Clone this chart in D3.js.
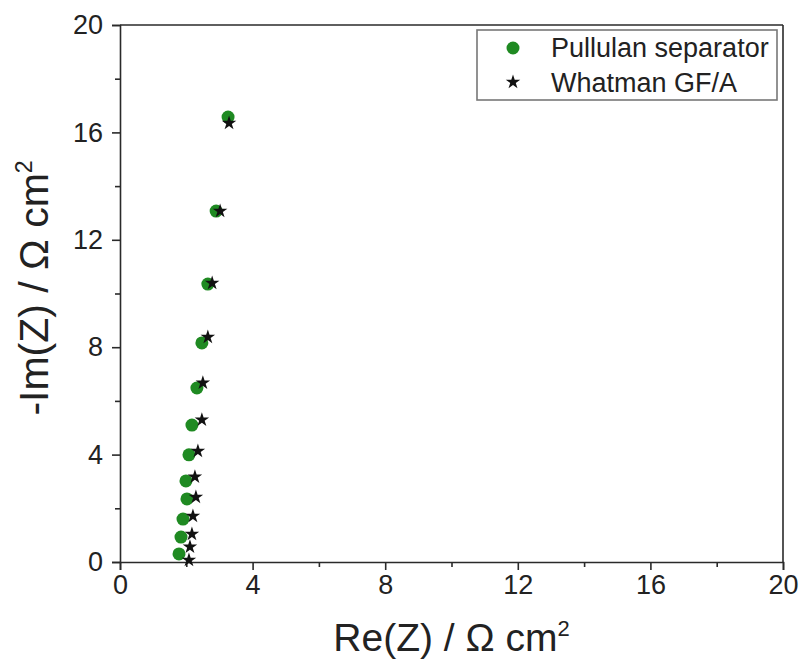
<!DOCTYPE html>
<html>
<head>
<meta charset="utf-8">
<script src="https://cdn.jsdelivr.net/npm/d3@7"></script>
<style>
  html, body { margin: 0; padding: 0; background: #fff; }
  svg { display: block; font-family: "Liberation Sans", Arial, sans-serif; }
</style>
</head>
<body>
<svg id="chart" width="812" height="662"></svg>
<script>
// ---- data ----
const seriesNames = ["Pullulan separator", "Whatman GF/A"];
const pullulanRe = [3.26, 2.90, 2.65, 2.47, 2.32, 2.17, 2.08, 1.99, 2.02, 1.90, 1.84, 1.78];
const pullulanIm = [16.57, 13.07, 10.35, 8.16, 6.48, 5.10, 3.99, 3.02, 2.35, 1.60, 0.93, 0.30];
const whatmanRe = [3.29, 3.02, 2.78, 2.65, 2.50, 2.47, 2.35, 2.26, 2.29, 2.20, 2.17, 2.11, 2.08];
const whatmanIm = [16.35, 13.07, 10.39, 8.38, 6.67, 5.29, 4.13, 3.17, 2.42, 1.71, 1.04, 0.56, 0.07];
const majorTicks = [0, 4, 8, 12, 16, 20];
const minorTicks = [2, 6, 10, 14, 18];
const xTitle = "Re(Z) / Ω cm";
const yTitle = "-Im(Z) / Ω cm";

// ---- layout ----
const svg = d3.select("#chart");
const mLeft = 120, mRight = 783, mTop = 25, mBottom = 562;
const axisColor = "#2a2a2a";
const textColor = "#222";
const green = "#1f8a22";

const x = d3.scaleLinear().domain([0, 20]).range([mLeft, mRight]);
const y = d3.scaleLinear().domain([0, 20]).range([mBottom, mTop]);

// frame (top & right)
svg.append("line").attr("x1", mLeft).attr("x2", mRight).attr("y1", mTop).attr("y2", mTop)
  .attr("stroke", axisColor).attr("stroke-width", 1.6);
svg.append("line").attr("x1", mRight).attr("x2", mRight).attr("y1", mTop).attr("y2", mBottom)
  .attr("stroke", axisColor).attr("stroke-width", 1.6);

// x axis
const xAxis = d3.axisBottom(x).tickValues(majorTicks).tickSize(8).tickPadding(5).tickFormat(d3.format("d"));
const gx = svg.append("g").attr("transform", `translate(0,${mBottom})`).call(xAxis);
const xMinor = d3.axisBottom(x).tickValues(minorTicks).tickSize(5).tickFormat("");
const gxm = svg.append("g").attr("transform", `translate(0,${mBottom})`).call(xMinor);

// y axis
const yAxis = d3.axisLeft(y).tickValues(majorTicks).tickSize(8).tickPadding(9).tickFormat(d3.format("d"));
const gy = svg.append("g").attr("transform", `translate(${mLeft},0)`).call(yAxis);
const yMinor = d3.axisLeft(y).tickValues(minorTicks).tickSize(5).tickFormat("");
const gym = svg.append("g").attr("transform", `translate(${mLeft},0)`).call(yMinor);

[gx, gxm, gy, gym].forEach(g => {
  g.select(".domain").attr("stroke", axisColor).attr("stroke-width", 1.6);
  g.selectAll(".tick line").attr("stroke", axisColor).attr("stroke-width", 1.6);
  g.selectAll(".tick text").attr("fill", textColor).style("font-size", "27px")
    .style("font-family", "'Liberation Sans', Arial, sans-serif");
});
gxm.select(".domain").remove();
gym.select(".domain").remove();

// axis titles
const xt = svg.append("text").attr("x", (mLeft + mRight) / 2).attr("y", 651)
  .attr("text-anchor", "middle").attr("fill", textColor).style("font-size", "39px");
xt.append("tspan").text(xTitle);
xt.append("tspan").attr("dy", "-0.7em").style("font-size", "22px").text("2");

const yt = svg.append("text")
  .attr("transform", `translate(48,288) rotate(-90)`)
  .attr("text-anchor", "middle").attr("fill", textColor).style("font-size", "41px");
yt.append("tspan").text(yTitle);
yt.append("tspan").attr("dy", "-0.7em").style("font-size", "23px").text("2");

// data
const pullulan = pullulanRe.map((v, i) => ({ re: v, im: pullulanIm[i] }));
const whatman = whatmanRe.map((v, i) => ({ re: v, im: whatmanIm[i] }));

svg.append("g").selectAll("circle").data(pullulan).join("circle")
  .attr("cx", d => x(d.re)).attr("cy", d => y(d.im)).attr("r", 6.5)
  .attr("fill", green);

const star = d3.symbol().type(d3.symbolStar).size(65);
svg.append("g").selectAll("path").data(whatman).join("path")
  .attr("d", star)
  .attr("transform", d => `translate(${x(d.re)},${y(d.im)})`)
  .attr("fill", "#111");

// legend
const lg = svg.append("g");
lg.append("rect").attr("x", 477).attr("y", 30).attr("width", 300).attr("height", 70)
  .attr("fill", "#fff").attr("stroke", "#777").attr("stroke-width", 1.6);
lg.append("circle").attr("cx", 513).attr("cy", 48).attr("r", 6.5).attr("fill", green);
lg.append("path").attr("d", star).attr("transform", "translate(513,82)").attr("fill", "#111");
lg.append("text").attr("x", 551).attr("y", 57).attr("fill", textColor).style("font-size", "27px").text(seriesNames[0]);
lg.append("text").attr("x", 551).attr("y", 92).attr("fill", textColor).style("font-size", "27px").text(seriesNames[1]);
</script>
</body>
</html>
